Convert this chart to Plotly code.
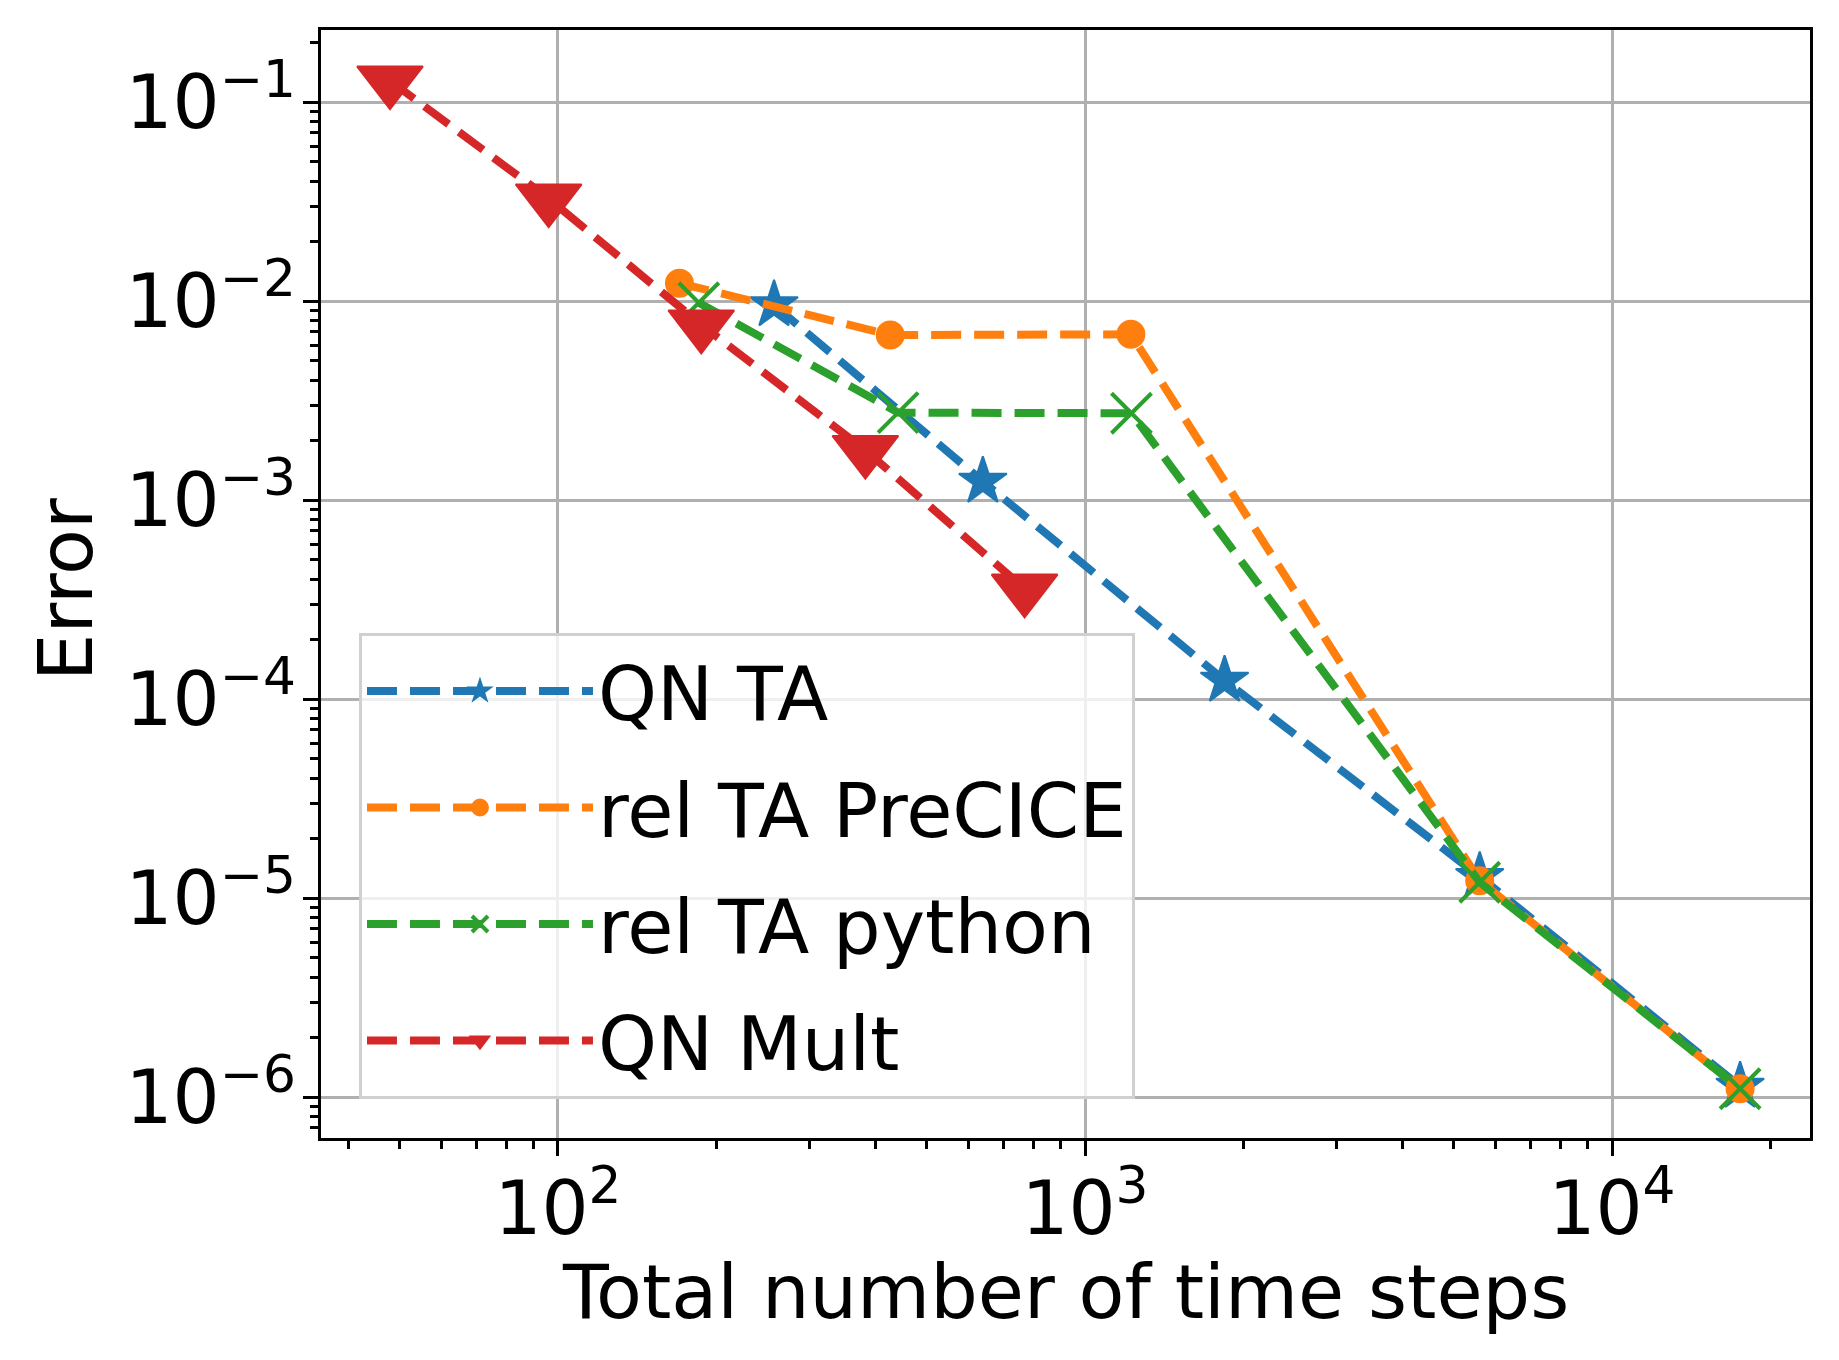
import numpy as np
import plotly.graph_objects as go

# ---- data ----
qn_ta_x = [257, 640, 1840, 5610, 17500]
qn_ta_y = [0.00955, 0.00124, 0.000124, 1.28e-5, 1.13e-6]

precice_x = [170, 427, 1222, 5610, 17500]
precice_y = [0.0123, 0.00675, 0.0068, 1.22e-5, 1.1e-6]

python_x = [185, 442, 1225, 5610, 17500]
python_y = [0.0098, 0.00275, 0.00273, 1.2e-5, 1.1e-6]

mult_x = [48, 96, 187, 383, 768]
mult_y = [0.128, 0.0327, 0.0076, 0.00178, 0.000358]

series_names = ["QN TA", "rel TA PreCICE", "rel TA python", "QN Mult"]
x_title = "Total number of time steps"
y_title = "Error"

x_major = [1e2, 1e3, 1e4]
x_major_text = ["10<sup>2</sup>", "10<sup>3</sup>", "10<sup>4</sup>"]
y_major = [1e-6, 1e-5, 1e-4, 1e-3, 1e-2, 1e-1]
y_major_text = ["10<sup>\u22126</sup>", "10<sup>\u22125</sup>", "10<sup>\u22124</sup>",
                "10<sup>\u22123</sup>", "10<sup>\u22122</sup>", "10<sup>\u22121</sup>"]

x_minor = [m * 10.0 ** k for k in range(1, 5) for m in range(2, 10)]
y_minor = [m * 10.0 ** k for k in range(-7, 0) for m in range(2, 10)]

FONT = "DejaVu Sans"
FS = 75
TFS = 74
LW = 8
DASH = "30px,13px"

fig = go.Figure()

fig.add_trace(go.Scatter(
    x=qn_ta_x, y=qn_ta_y, name=series_names[0], mode="lines+markers",
    line=dict(color="#1f77b4", width=LW, dash=DASH),
    marker=dict(symbol="star", size=36, color="#1f77b4",
                line=dict(color="#1f77b4", width=2)),
    legendgroup="a"))
fig.add_trace(go.Scatter(
    x=precice_x, y=precice_y, name=series_names[1], mode="lines+markers",
    line=dict(color="#ff7f0e", width=LW, dash=DASH),
    marker=dict(symbol="circle", size=27, color="#ff7f0e",
                line=dict(color="#ff7f0e", width=2)),
    legendgroup="b"))
fig.add_trace(go.Scatter(
    x=python_x, y=python_y, name=series_names[2], mode="lines+markers",
    line=dict(color="#2ca02c", width=LW, dash=DASH),
    marker=dict(symbol="x-thin", size=40, color="#2ca02c",
                line=dict(color="#2ca02c", width=4)),
    legendgroup="c"))
fig.add_trace(go.Scatter(
    x=mult_x, y=mult_y, name=series_names[3], mode="lines+markers",
    line=dict(color="#d62728", width=LW, dash=DASH),
    marker=dict(symbol="triangle-down", size=57, color="#d62728",
                line=dict(color="#d62728", width=2)),
    legendgroup="d"))

axis_common = dict(
    type="log",
    showline=True, linecolor="black", linewidth=3.3, mirror=True,
    ticks="outside", ticklen=15, tickwidth=3.3, tickcolor="black",
    showgrid=True, gridcolor="#b0b0b0", gridwidth=3.3,
    zeroline=False,
    tickfont=dict(family=FONT, size=TFS, color="black"),
    tickmode="array",
)

fig.update_xaxes(
    **axis_common,
    range=[1.5503, 4.3757],
    tickvals=x_major, ticktext=x_major_text,
    ticklabelstandoff=-11,
    minor=dict(tickmode="array", tickvals=x_minor, ticks="outside",
               ticklen=8, tickwidth=2.5, tickcolor="black", showgrid=False),
)
fig.update_yaxes(
    **axis_common,
    range=[-6.206, -0.638],
    tickvals=y_major, ticktext=y_major_text,
    ticklabelstandoff=-8,
    minor=dict(tickmode="array", tickvals=y_minor, ticks="outside",
               ticklen=8, tickwidth=2.5, tickcolor="black", showgrid=False),
)

# axis titles placed as annotations for precise positioning
fig.add_annotation(text=x_title, xref="paper", yref="paper", x=0.5, y=0,
                   xanchor="center", yanchor="middle", yshift=-154,
                   showarrow=False, font=dict(family=FONT, size=FS, color="black"))
fig.add_annotation(text=y_title, xref="paper", yref="paper", x=0, y=0.5,
                   xanchor="center", yanchor="middle", xshift=-255, yshift=-6,
                   textangle=-90,
                   showarrow=False, font=dict(family=FONT, size=FS, color="black"))

fig.update_layout(
    width=1839, height=1360,
    margin=dict(l=313, r=37, t=22, b=230, autoexpand=False),
    paper_bgcolor="white", plot_bgcolor="white",
    font=dict(family=FONT, size=FS, color="black"),
    showlegend=True,
    legend=dict(
        x=0.0255, y=0.456, xanchor="left", yanchor="top",
        bgcolor="rgba(255,255,255,0.8)", bordercolor="#d0d0d0", borderwidth=3,
        font=dict(family=FONT, size=FS, color="black"),
        traceorder="grouped", tracegroupgap=16, itemsizing="trace",
        itemwidth=226,
    ),
)

fig.write_html("out.html")
